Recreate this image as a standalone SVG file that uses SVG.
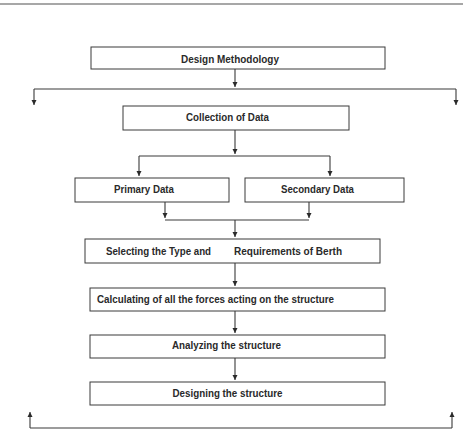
<svg xmlns="http://www.w3.org/2000/svg" width="463" height="442" viewBox="0 0 463 442">
  <style>
    .box { fill: #ffffff; stroke: #3a3a3a; stroke-width: 1; }
    .lbl { font-family: "Liberation Sans", Arial, sans-serif; font-weight: bold; font-size: 10px; fill: #2a2a2a; }
    .wire { fill: none; stroke: #3a3a3a; stroke-width: 1.1; }
    .arr { fill: none; stroke: #3a3a3a; stroke-width: 1.1; marker-end: url(#tip); }
  </style>
  <defs>
    <marker id="tip" markerUnits="userSpaceOnUse" markerWidth="6" markerHeight="6" refX="5" refY="3" orient="auto">
      <path d="M0,0.5 L5,3 L0,5.5 z" fill="#2a2a2a"/>
    </marker>
  </defs>

  <rect width="463" height="442" fill="#ffffff"/>
  <!-- page rule -->
  <line x1="0" y1="4" x2="463" y2="4" stroke="#8a8a8a" stroke-width="1.4"/>

  <g id="connectors">
    <line class="arr" x1="235" y1="69" x2="235" y2="87"/>
    <line class="wire" x1="34" y1="89" x2="456" y2="89"/>
    <line class="arr" x1="34" y1="89" x2="34" y2="105"/>
    <line class="arr" x1="456" y1="89" x2="456" y2="105"/>

    <line class="arr" x1="235" y1="130" x2="235" y2="154"/>
    <line class="wire" x1="139" y1="156" x2="330" y2="156"/>
    <line class="arr" x1="139" y1="156" x2="139" y2="176"/>
    <line class="arr" x1="330" y1="156" x2="330" y2="176"/>

    <line class="arr" x1="165" y1="202" x2="165" y2="218"/>
    <line class="arr" x1="309" y1="202" x2="309" y2="218"/>
    <line class="wire" x1="165" y1="220" x2="309" y2="220"/>
    <line class="arr" x1="235" y1="220" x2="235" y2="237"/>

    <line class="arr" x1="235" y1="263" x2="235" y2="286"/>
    <line class="arr" x1="235" y1="311" x2="235" y2="333"/>
    <line class="arr" x1="235" y1="358" x2="235" y2="380"/>

    <line class="wire" x1="30" y1="428" x2="452" y2="428"/>
    <line class="arr" x1="30" y1="428" x2="30" y2="412"/>
    <line class="arr" x1="452" y1="428" x2="452" y2="412"/>
  </g>

  <g id="design-methodology">
    <rect class="box" x="91" y="47" width="294" height="22"/>
    <text class="lbl" x="181" y="62.5" textLength="98" lengthAdjust="spacingAndGlyphs">Design Methodology</text>
  </g>

  <g id="collection-of-data">
    <rect class="box" x="123" y="106" width="226" height="24"/>
    <text class="lbl" x="186" y="121" textLength="83" lengthAdjust="spacingAndGlyphs">Collection of Data</text>
  </g>

  <g id="primary-data">
    <rect class="box" x="75" y="178" width="154" height="24"/>
    <text class="lbl" x="114" y="192.5" textLength="60" lengthAdjust="spacingAndGlyphs">Primary Data</text>
  </g>

  <g id="secondary-data">
    <rect class="box" x="245" y="178" width="159" height="24"/>
    <text class="lbl" x="281" y="192.5" textLength="73" lengthAdjust="spacingAndGlyphs">Secondary Data</text>
  </g>

  <g id="berth-selection">
    <rect class="box" x="85" y="239" width="295" height="24"/>
    <text class="lbl" x="106" y="255" textLength="105" lengthAdjust="spacingAndGlyphs">Selecting the Type and</text>
    <text class="lbl" x="234" y="255" textLength="108" lengthAdjust="spacingAndGlyphs">Requirements of Berth</text>
  </g>

  <g id="force-calculation">
    <rect class="box" x="90" y="288" width="295" height="23"/>
    <text class="lbl" x="97" y="302.5" textLength="237" lengthAdjust="spacingAndGlyphs">Calculating of all the forces acting on the structure</text>
  </g>

  <g id="analysis">
    <rect class="box" x="90" y="335" width="295" height="23"/>
    <text class="lbl" x="172" y="349" textLength="109" lengthAdjust="spacingAndGlyphs">Analyzing the structure</text>
  </g>

  <g id="design">
    <rect class="box" x="90" y="382" width="295" height="23"/>
    <text class="lbl" x="172.5" y="396.5" textLength="110" lengthAdjust="spacingAndGlyphs">Designing the structure</text>
  </g>
</svg>
